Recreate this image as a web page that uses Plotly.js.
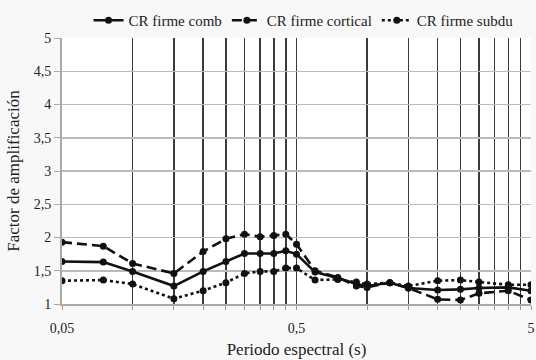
<!DOCTYPE html>
<html><head><meta charset="utf-8">
<script src="https://cdn.plot.ly/plotly-3.0.1.min.js"></script>
<style>body{margin:0;background:#f8f8f8}#c{width:536px;height:360px}</style>
</head><body><div id="c"></div>
<script>
const periods = [0.05, 0.075, 0.1, 0.15, 0.2, 0.25, 0.3, 0.35, 0.4, 0.45, 0.5, 0.6, 0.75, 0.9, 1.0, 1.25, 1.5, 2, 2.5, 3, 4, 5];
const comb     = [1.64, 1.63, 1.49, 1.27, 1.49, 1.64, 1.76, 1.76, 1.76, 1.80, 1.75, 1.48, 1.39, 1.30, 1.27, 1.32, 1.24, 1.21, 1.22, 1.24, 1.25, 1.20];
const cortical = [1.93, 1.87, 1.61, 1.46, 1.79, 1.98, 2.05, 2.01, 2.03, 2.05, 1.90, 1.50, 1.40, 1.27, 1.25, 1.32, 1.24, 1.07, 1.06, 1.16, 1.20, 1.06];
const subdu    = [1.35, 1.36, 1.30, 1.08, 1.20, 1.32, 1.46, 1.49, 1.49, 1.54, 1.54, 1.36, 1.37, 1.33, 1.30, 1.32, 1.27, 1.35, 1.36, 1.33, 1.29, 1.29];
const names = ['CR firme comb', 'CR firme cortical', 'CR firme subdu'];
const xTickVals = [0.05, 0.1, 0.15, 0.2, 0.25, 0.3, 0.35, 0.4, 0.45, 0.5, 1, 1.5, 2, 2.5, 3, 3.5, 4, 4.5, 5];
const xTickText = ['0,05', '', '', '', '', '', '', '', '', '0,5', '', '', '', '', '', '', '', '', '5'];
const yTickVals = [1, 1.5, 2, 2.5, 3, 3.5, 4, 4.5, 5];

const fam = '"Liberation Serif", "Times New Roman", serif';
function f(size) { return {family: fam, size: size, color: '#222'}; }
function tr(y, name, dash) {
  return {x: periods, y: y, name: name, type: 'scatter', mode: 'lines+markers',
    line: {color: '#111', width: 2.6, dash: dash},
    marker: {color: '#111', size: 7, symbol: 'circle'}};
}
const data = [tr(comb, names[0], 'solid'), tr(cortical, names[1], '10px,5px'), tr(subdu, names[2], 'dot')];
const layout = {
  width: 536, height: 360,
  paper_bgcolor: '#f8f8f8', plot_bgcolor: '#ffffff',
  margin: {l: 62, r: 5, t: 37, b: 56},
  font: f(14),
  separators: ', ',
  showlegend: true,
  legend: {orientation: 'h', x: 0.515, xanchor: 'center', y: 1.0, yanchor: 'bottom',
    font: f(15), bgcolor: 'rgba(0,0,0,0)', itemwidth: 30, tracegroupgap: 0},
  xaxis: {type: 'log', range: [Math.log10(0.05), Math.log10(5)],
    tickvals: xTickVals, ticktext: xTickText, ticks: 'outside', ticklen: 4, tickcolor: '#999',
    showgrid: true, gridcolor: '#3a3a3a', gridwidth: 1.5,
    showline: true, linecolor: '#aaa', linewidth: 2, zeroline: false,
    tickfont: f(14), ticklabelstandoff: 6,
    title: {text: 'Periodo espectral (s)', font: f(17), standoff: 8}},
  yaxis: {range: [1, 5], tickvals: yTickVals, tickformat: '.1~f',
    ticks: 'outside', ticklen: 6, tickcolor: '#aaa',
    showgrid: true, gridcolor: '#bbb', gridwidth: 1.5,
    showline: true, linecolor: '#aaa', linewidth: 2, zeroline: false,
    tickfont: f(14),
    title: {text: 'Factor de amplificación', font: f(17), standoff: 10}}
};
Plotly.newPlot('c', data, layout, {staticPlot: true, displayModeBar: false});
</script></body></html>
